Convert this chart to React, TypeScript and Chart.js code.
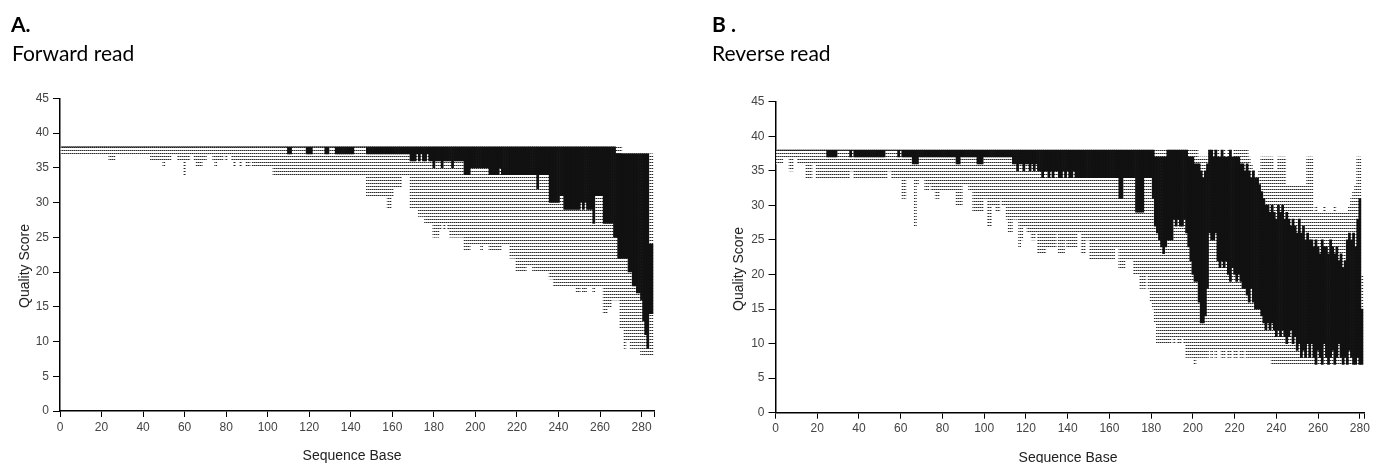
import React, { useEffect, useRef } from 'react';
import { Chart, registerables } from 'chart.js';

Chart.register(...registerables);

// ---------- Forward read (positions 1..285) ----------
const fwdHi = [
  38,38,38,38,38,38,38,38,38,38, 38,38,38,38,38,38,38,38,38,38,
  38,38,38,38,38,38,38,38,38,38, 38,38,38,38,38,38,38,38,38,38,
  38,38,38,38,38,38,38,38,38,38, 38,38,38,38,38,38,38,38,38,38,
  38,38,38,38,38,38,38,38,38,38, 38,38,38,38,38,38,38,38,38,38,
  38,38,38,38,38,38,38,38,38,38, 38,38,38,38,38,38,38,38,38,38,
  38,38,38,38,38,38,38,38,38,38, 38,38,38,38,38,38,38,38,38,38,
  38,38,38,38,38,38,38,38,38,38, 38,38,38,38,38,38,38,38,38,38,
  38,38,38,38,38,38,38,38,38,38, 38,38,38,38,38,38,38,38,38,38,
  38,38,38,38,38,38,38,38,38,38, 38,38,38,38,38,38,38,38,38,38,
  38,38,38,38,38,38,38,38,38,38, 38,38,38,38,38,38,38,38,38,38,
  38,38,38,38,38,38,38,38,38,38, 38,38,38,38,38,38,38,38,38,38,
  38,38,38,38,38,38,38,38,38,38, 38,38,38,38,38,38,38,38,38,38,
  38,38,38,38,38,38,38,38,38,38, 38,38,38,38,38,38,38,38,38,38,
  38,38,38,38,38,38,38,38,38,38, 37,37,37,37,37,37,37,37,37,37,
  37,37,37,37,37,
];
const fwdQ3 = [
  38,38,38,38,38,38,38,38,38,38, 38,38,38,38,38,38,38,38,38,38,
  38,38,38,38,38,38,38,38,38,38, 38,38,38,38,38,38,38,38,38,38,
  38,38,38,38,38,38,38,38,38,38, 38,38,38,38,38,38,38,38,38,38,
  38,38,38,38,38,38,38,38,38,38, 38,38,38,38,38,38,38,38,38,38,
  38,38,38,38,38,38,38,38,38,38, 38,38,38,38,38,38,38,38,38,38,
  38,38,38,38,38,38,38,38,38,38, 38,38,38,38,38,38,38,38,38,38,
  38,38,38,38,38,38,38,38,38,38, 38,38,38,38,38,38,38,38,38,38,
  38,38,38,38,38,38,38,38,38,38, 38,38,38,38,38,38,38,38,38,38,
  38,38,38,38,38,38,38,38,38,38, 38,38,38,38,38,38,38,38,38,38,
  38,38,38,38,38,38,38,38,38,38, 38,38,38,38,38,38,38,38,38,38,
  38,38,38,38,38,38,38,38,38,38, 38,38,38,38,38,38,38,38,38,38,
  38,38,38,38,38,38,38,38,38,38, 38,38,38,38,38,38,38,38,38,38,
  38,38,38,38,38,38,38,38,38,38, 38,38,38,38,38,38,38,38,38,38,
  38,38,38,38,38,38,38,37,37,37, 37,37,37,37,37,37,37,37,37,37,
  37,37,37,24,24,
];
const fwdQ1 = [
  38,38,38,38,38,38,38,38,38,38, 38,38,38,38,38,38,38,38,38,38,
  38,38,38,38,38,38,38,38,38,38, 38,38,38,38,38,38,38,38,38,38,
  38,38,38,38,38,38,38,38,38,38, 38,38,38,38,38,38,38,38,38,38,
  38,38,38,38,38,38,38,38,38,38, 38,38,38,38,38,38,38,38,38,38,
  38,38,38,38,38,38,38,38,38,38, 38,38,38,38,38,38,38,38,38,38,
  38,38,38,38,38,38,38,38,38,37, 37,38,38,38,38,38,38,38,37,37,
  37,38,38,38,38,38,38,37,37,38, 38,38,37,37,37,37,37,37,37,37,
  37,38,38,38,38,38,38,37,37,37, 37,37,37,37,37,37,37,37,37,37,
  37,37,37,37,37,37,37,37,36,36, 36,37,36,37,36,36,37,36,36,35,
  36,36,36,35,36,36,36,36,35,36, 36,36,36,36,34,34,34,35,35,35,
  35,35,35,35,35,35,34,34,34,34, 34,35,34,34,34,34,34,34,34,34,
  34,34,34,34,34,34,34,34,34,32, 34,34,34,34,34,30,30,30,30,30,
  31,31,29,29,29,29,29,29,29,29, 30,29,30,29,29,29,27,31,31,31,
  31,27,27,27,27,27,25,25,22,22, 22,22,22,20,20,18,18,17,17,16,
  13,11,9,14,14,
];
const fwdLo = [
  37,37,37,37,37,37,37,37,37,37, 37,37,37,37,37,37,37,37,37,37,
  37,37,37,36,36,36,37,37,37,37, 37,37,37,37,37,37,37,37,37,37,
  37,37,37,36,36,36,36,36,36,35, 36,36,36,37,37,37,36,36,36,34,
  36,36,37,37,36,35,35,35,36,36, 37,37,37,36,35,36,36,36,37,36,
  37,37,36,35,36,36,35,36,36,35, 35,36,35,35,35,35,35,35,35,35,
  35,35,34,34,34,34,34,34,34,34, 34,34,34,34,34,34,34,34,34,34,
  34,34,34,34,34,34,34,34,34,34, 34,34,34,34,34,34,34,34,34,34,
  34,34,34,34,34,34,34,31,31,31, 31,31,31,31,31,31,31,29,29,31,
  32,32,32,32,34,34,34,34,29,29, 29,29,28,28,28,27,27,27,27,25,
  25,25,26,27,26,27,26,25,25,25, 25,25,25,25,23,23,23,24,24,24,
  24,24,23,24,24,24,23,23,23,23, 23,23,24,24,24,24,22,22,22,20,
  20,20,20,20,21,21,21,20,20,20, 20,20,20,20,20,19,19,18,18,18,
  18,18,18,18,18,18,18,18,17,17, 18,17,17,18,18,18,17,18,18,18,
  18,14,14,15,15,16,16,16,16,12, 12,9,10,10,9,9,9,9,9,8,
  8,8,8,8,8,
];

// ---------- Reverse read (positions 1..281) ----------
const revHi = [
  38,38,38,38,38,38,38,38,38,38, 38,38,38,38,38,38,38,38,38,38,
  38,38,38,38,38,38,38,38,38,38, 38,38,38,38,38,38,38,38,38,38,
  38,38,38,38,38,38,38,38,38,38, 38,38,38,38,38,38,38,38,38,38,
  38,38,38,38,38,38,38,38,38,38, 38,38,38,38,38,38,38,38,38,38,
  38,38,38,38,38,38,38,38,38,38, 38,38,38,38,38,38,38,38,38,38,
  38,38,38,38,38,38,38,38,38,38, 38,38,38,38,38,38,38,38,38,38,
  38,38,38,38,38,38,38,38,38,38, 38,38,38,38,38,38,38,38,38,38,
  38,38,38,38,38,38,38,38,38,38, 38,38,38,38,38,38,38,38,38,38,
  38,38,38,38,38,38,38,38,38,38, 38,38,38,38,38,38,38,38,38,38,
  38,38,38,38,38,38,38,38,38,38, 38,38,38,38,38,38,38,38,38,38,
  38,38,37,37,37,37,37,38,38,38, 38,38,37,38,38,37,38,38,37,38,
  38,38,38,38,38,38,37,36,35,34, 34,35,37,37,37,37,37,37,35,35,
  37,37,37,37,33,33,33,33,33,33, 33,33,33,33,37,37,37,29,30,29,
  29,29,30,29,29,29,29,30,29,29, 29,29,29,29,30,31,32,33,37,37,
  20,
];
const revQ3 = [
  38,38,38,38,38,38,38,38,38,38, 38,38,38,38,38,38,38,38,38,38,
  38,38,38,38,38,38,38,38,38,38, 38,38,38,38,38,38,38,38,38,38,
  38,38,38,38,38,38,38,38,38,38, 38,38,38,38,38,38,38,38,38,38,
  38,38,38,38,38,38,38,38,38,38, 38,38,38,38,38,38,38,38,38,38,
  38,38,38,38,38,38,38,38,38,38, 38,38,38,38,38,38,38,38,38,38,
  38,38,38,38,38,38,38,38,38,38, 38,38,38,38,38,38,38,38,38,38,
  38,38,38,38,38,38,38,38,38,38, 38,38,38,38,38,38,38,38,38,38,
  38,38,38,38,38,38,38,38,38,38, 38,38,38,38,38,38,38,38,38,38,
  38,38,38,38,38,38,38,38,38,38, 38,38,38,38,38,38,38,38,38,38,
  38,37,37,37,37,37,37,38,38,38, 38,38,38,38,38,38,38,37,37,37,
  36,36,36,35,34,35,36,38,38,37, 38,37,37,38,37,37,37,38,37,37,
  37,37,36,36,35,36,35,34,35,34, 34,33,32,31,30,30,29,30,29,28,
  30,29,30,28,29,28,27,28,27,26, 28,26,27,25,26,25,25,24,25,24,
  23,25,24,24,23,25,24,23,24,22, 23,21,22,25,26,25,26,24,28,31,
  15,
];
const revQ1 = [
  38,38,38,38,38,38,38,38,38,38, 38,38,38,38,38,38,38,38,38,38,
  38,38,38,38,37,37,37,37,37,38, 38,38,38,38,38,37,38,37,37,37,
  37,37,37,37,37,37,37,37,37,37, 37,37,38,38,38,38,38,38,37,38,
  37,37,37,37,37,36,36,36,37,37, 37,37,37,37,37,37,37,37,37,37,
  37,37,37,37,37,37,36,36,37,37, 37,37,37,37,37,37,36,36,36,37,
  37,37,37,37,37,37,37,37,37,37, 37,37,37,36,36,35,36,36,35,36,
  36,35,36,35,36,35,35,34,35,35, 34,35,34,35,35,34,34,35,34,35,
  34,34,35,34,34,34,34,34,34,34, 34,34,34,34,34,34,34,34,34,34,
  34,34,34,34,31,31,34,34,34,34, 34,34,29,29,29,29,34,34,34,34,
  31,27,26,25,24,23,24,25,25,25, 28,27,28,27,27,28,26,24,22,20,
  19,19,16,13,13,14,18,26,25,25, 26,22,21,22,21,22,20,19,21,20,
  19,20,19,18,18,17,16,18,16,15, 15,15,14,13,12,13,12,13,12,11,
  12,11,12,11,10,11,12,10,11,9, 10,8,9,8,10,8,10,8,7,9,
  8,7,10,8,7,8,9,7,8,10, 8,7,8,7,9,8,7,7,8,7,
  7,
];
const revLo = [
  36,36,36,37,37,37,35,35,37,37, 36,36,36,36,34,34,34,36,36,34,
  34,34,34,34,34,34,34,34,34,34, 34,34,34,34,34,35,35,34,34,34,
  34,34,34,34,34,34,34,34,34,34, 34,34,34,35,35,34,34,34,34,34,
  31,31,34,34,34,34,27,33,34,34, 34,32,32,33,32,32,31,31,32,32,
  32,32,32,32,32,32,30,30,30,33, 33,33,32,32,29,29,29,29,29,31,
  31,27,27,30,30,29,29,31,30,30, 28,26,26,28,28,28,24,25,27,27,
  26,26,25,25,26,23,23,23,23,24, 24,24,24,24,26,23,23,23,25,24,
  24,24,24,24,26,26,23,23,25,25, 22,22,22,22,22,22,22,22,22,22,
  22,22,24,24,21,21,21,22,22,22, 22,20,20,20,18,18,18,20,18,16,
  15,13,10,10,10,10,10,10,10,11, 10,11,10,10,11,10,8,8,8,8,
  7,8,8,8,8,8,8,9,8,9, 8,9,9,8,8,9,8,8,9,8,
  8,9,8,8,9,8,8,8,8,8, 8,8,8,8,8,8,8,7,7,7,
  7,7,7,7,7,7,7,7,7,7, 7,7,7,7,7,7,7,7,7,7,
  7,7,7,7,7,7,7,7,7,7, 7,7,7,7,7,7,7,7,7,7,
  7,
];

const Y_TICK_MAX = 45;
const Y_STEP = 5;
const X_STEP = 20;

function makePattern(): CanvasPattern | string {
  const c = document.createElement('canvas');
  c.width = 2;
  c.height = 3;
  const g = c.getContext('2d');
  if (!g) return '#aaa';
  g.fillStyle = '#ffffff';
  g.fillRect(0, 0, 2, 3);
  g.fillStyle = '#2a2a2a';
  g.fillRect(0, 0, 1, 1);
  g.fillStyle = '#888888';
  g.fillRect(1, 0, 1, 1);
  return g.createPattern(c, 'repeat') || '#aaa';
}

type Props = {
  hi: number[]; q3: number[]; q1: number[]; lo: number[];
  xMax: number; yAxisWidth: number; xAxisHeight: number;
  padTop: number; padRight: number;
  left: number; width: number; height: number;
};

function QualityChart(p: Props) {
  const ref = useRef<HTMLCanvasElement>(null);
  useEffect(() => {
    if (!ref.current) return;
    const pattern = makePattern();
    const positions = p.hi.map((_, i) => i + 1);
    const tickFont = { family: "'Liberation Sans', Arial, sans-serif", size: 12 };
    const chart = new Chart(ref.current, {
      type: 'bar',
      data: {
        datasets: [
          {
            data: positions.map((x, i) => ({ x, y: [p.q1[i], p.q3[i]] })),
            backgroundColor: '#111111',
            borderWidth: 0,
            grouped: false,
            barPercentage: 1,
            categoryPercentage: 1,
            order: 0,
          } as any,
          {
            data: positions.map((x, i) => ({ x, y: [p.lo[i], p.hi[i]] })),
            backgroundColor: pattern,
            borderWidth: 0,
            grouped: false,
            barPercentage: 1,
            categoryPercentage: 1,
            order: 1,
          } as any,
        ],
      },
      options: {
        animation: false,
        responsive: false,
        events: [],
        layout: { padding: { top: p.padTop, right: p.padRight, left: 0, bottom: 0 } },
        plugins: { legend: { display: false }, tooltip: { enabled: false } },
        scales: {
          x: {
            type: 'linear',
            min: 0,
            max: p.xMax,
            offset: false,
            grid: { display: true, offset: false, drawOnChartArea: false, drawTicks: true, tickLength: 6, color: '#000', tickColor: '#000' },
            border: { display: true, color: '#000', width: 1.5 },
            ticks: {
              stepSize: X_STEP,
              includeBounds: false,
              autoSkip: false,
              maxRotation: 0,
              padding: 3,
              color: '#444',
              font: tickFont,
              callback: (v: any) => (Number(v) % X_STEP === 0 ? String(v) : ''),
            },
            afterBuildTicks: (s: any) => {
              s.ticks = s.ticks.filter((t: any) => t.value % X_STEP === 0 && t.value <= p.xMax);
              s.ticks.push({ value: p.xMax });
            },
            afterFit: (s: any) => { s.height = p.xAxisHeight; },
          },
          y: {
            min: 0,
            max: Y_TICK_MAX,
            grid: { display: true, drawOnChartArea: false, drawTicks: true, tickLength: 7, color: '#000', tickColor: '#000' },
            border: { display: true, color: '#000', width: 1.5 },
            ticks: { stepSize: Y_STEP, padding: 4, color: '#444', font: tickFont },
            afterFit: (s: any) => { s.width = p.yAxisWidth; },
          },
        },
      } as any,
    });
    return () => chart.destroy();
  }, []);
  return (
    <canvas
      ref={ref}
      width={p.width}
      height={p.height}
      style={{ position: 'absolute', left: p.left, top: 0, width: p.width, height: p.height }}
    />
  );
}

const headFont = "Lato, 'Open Sans', sans-serif";
const axisFont = "'Liberation Sans', Arial, sans-serif";

export default function App() {
  return (
    <div style={{ position: 'absolute', left: 0, top: 0, width: 1373, height: 463, background: '#fff', overflow: 'hidden' }}>
      <QualityChart hi={fwdHi} q3={fwdQ3} q1={fwdQ1} lo={fwdLo} xMax={286}
        yAxisWidth={60} xAxisHeight={52} padTop={98.3} padRight={36}
        left={0} width={690} height={463} />
      <QualityChart hi={revHi} q3={revQ3} q1={revQ1} lo={revLo} xMax={282}
        yAxisWidth={85.5} xAxisHeight={50.3} padTop={101.7} padRight={9}
        left={690} width={683} height={463} />

      <div style={{ position: 'absolute', left: 11, top: 11, font: `bold 21px ${headFont}`, color: '#000', whiteSpace: 'nowrap' }}>A.</div>
      <div style={{ position: 'absolute', left: 12, top: 40, font: `21px ${headFont}`, color: '#000', whiteSpace: 'nowrap' }}>Forward read</div>
      <div style={{ position: 'absolute', left: 712, top: 11, font: `bold 21px ${headFont}`, color: '#000', whiteSpace: 'nowrap' }}>B .</div>
      <div style={{ position: 'absolute', left: 712, top: 40, font: `21px ${headFont}`, color: '#000', whiteSpace: 'nowrap' }}>Reverse read</div>

      <div style={{ position: 'absolute', left: 23.5, top: 266, transform: 'translate(-50%, -50%) rotate(-90deg)', font: `14px ${axisFont}`, color: '#222', whiteSpace: 'nowrap' }}>Quality Score</div>
      <div style={{ position: 'absolute', left: 737.5, top: 268.5, transform: 'translate(-50%, -50%) rotate(-90deg)', font: `14px ${axisFont}`, color: '#222', whiteSpace: 'nowrap' }}>Quality Score</div>
      <div style={{ position: 'absolute', left: 352, top: 455, transform: 'translate(-50%, -50%)', font: `14px ${axisFont}`, color: '#222', whiteSpace: 'nowrap' }}>Sequence Base</div>
      <div style={{ position: 'absolute', left: 1068, top: 457, transform: 'translate(-50%, -50%)', font: `14px ${axisFont}`, color: '#222', whiteSpace: 'nowrap' }}>Sequence Base</div>
    </div>
  );
}
